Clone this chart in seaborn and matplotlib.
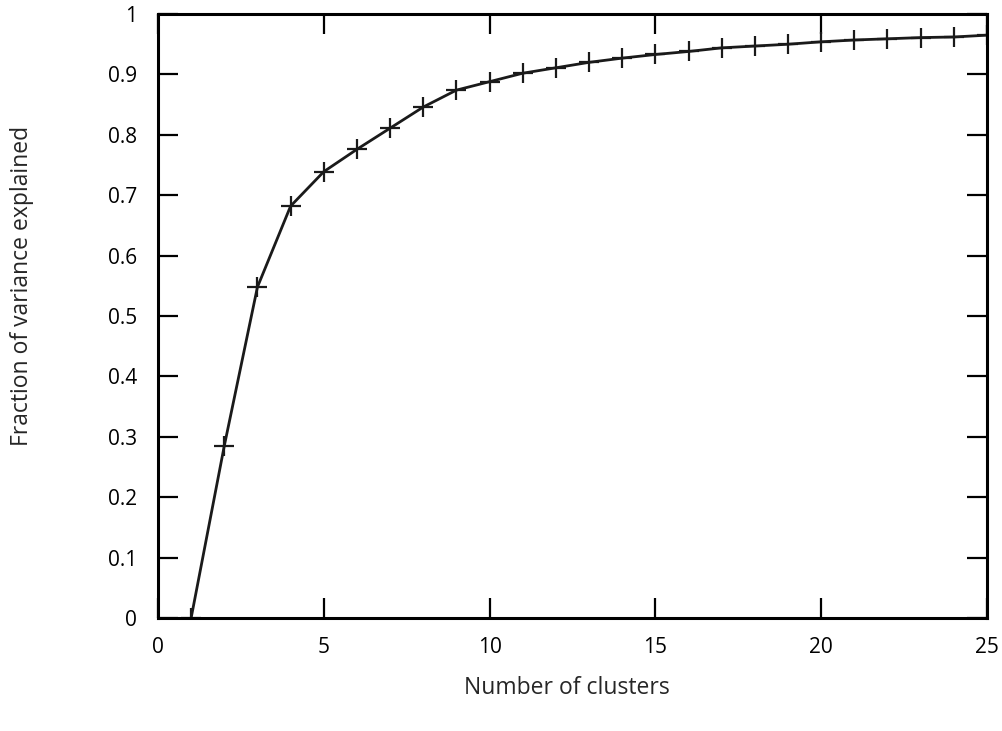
import matplotlib
matplotlib.use("Agg")
import matplotlib.pyplot as plt
import seaborn as sns
import pandas as pd

clusters = list(range(1, 26))
variance = [0.0, 0.285, 0.548, 0.682, 0.739, 0.776, 0.811, 0.846, 0.874, 0.888,
            0.902, 0.911, 0.920, 0.927, 0.933, 0.938, 0.944, 0.947, 0.950, 0.954,
            0.957, 0.959, 0.961, 0.962, 0.965]
x_ticks = [0, 5, 10, 15, 20, 25]
y_ticks = [0, 0.1, 0.2, 0.3, 0.4, 0.5, 0.6, 0.7, 0.8, 0.9, 1]
y_tick_labels = ["0", "0.1", "0.2", "0.3", "0.4", "0.5", "0.6", "0.7", "0.8", "0.9", "1"]

sns.set_style("ticks")
plt.rcParams["font.family"] = ["Open Sans", "DejaVu Sans"]

df = pd.DataFrame({"k": clusters, "v": variance})

fig = plt.figure(figsize=(10.03, 7.31), dpi=100)
ax = fig.add_axes([0.1575, 0.1546, 0.8265, 0.8262])
sns.lineplot(data=df, x="k", y="v", ax=ax, color="#1a1a1a", linewidth=2.0,
             marker="+", markersize=14, markeredgewidth=1.6, markeredgecolor="#1a1a1a")

ax.set_xlim(0, 25)
ax.set_ylim(0, 1)
ax.set_xticks(x_ticks)
ax.set_xticklabels([str(t) for t in x_ticks])
ax.set_yticks(y_ticks)
ax.set_yticklabels(y_tick_labels)
for s in ax.spines.values():
    s.set_visible(True)
    s.set_linewidth(2.2)
    s.set_color("black")
ax.tick_params(direction="in", length=14.5, width=1.6, top=True, right=True,
               labelsize=15, colors="black")
ax.tick_params(axis="y", pad=15)
ax.tick_params(axis="x", pad=14)
ax.set_xlabel("Number of clusters", fontsize=16.5, va="center")
ax.set_ylabel("Fraction of variance explained", fontsize=16.5, va="center")
ax.xaxis.set_label_coords(0.493, -0.116)
ax.yaxis.set_label_coords(-0.164, 0.55)

fig.savefig("out.png", dpi=100)
